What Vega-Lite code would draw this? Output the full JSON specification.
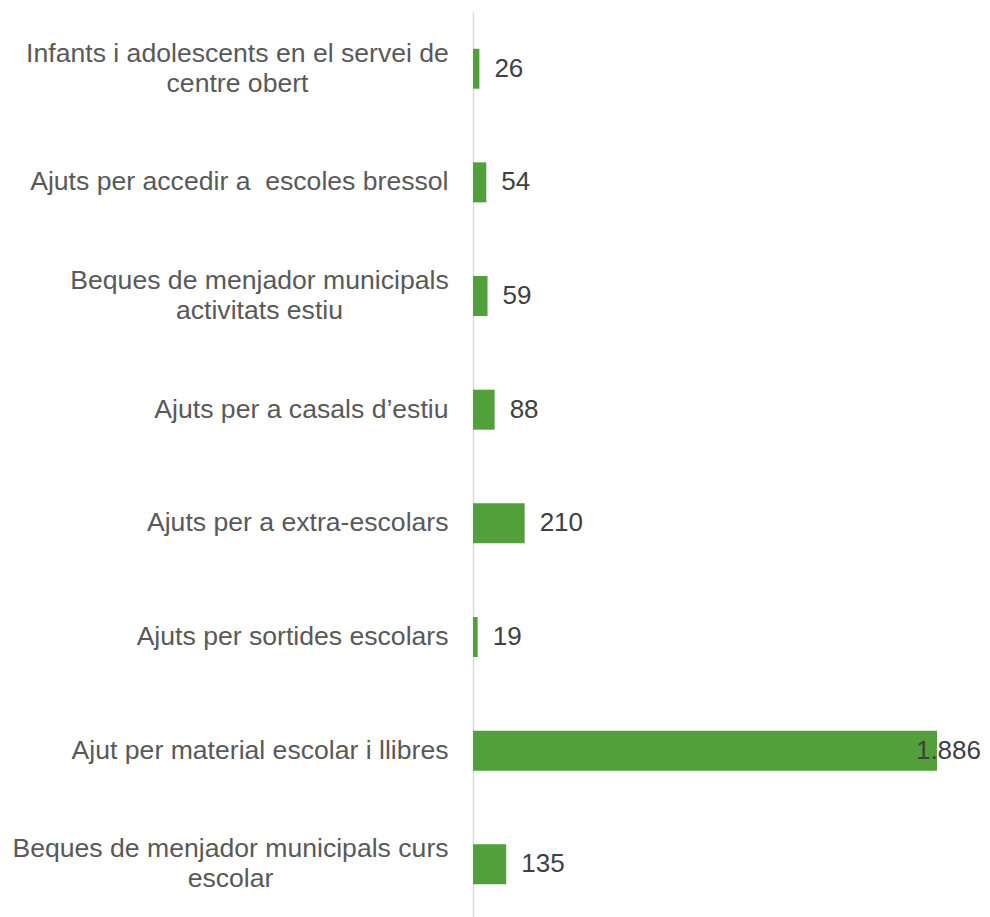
{
  "$schema": "https://vega.github.io/schema/vega-lite/v6.json",
  "autosize": "none",
  "padding": {"left": 473, "top": 12, "right": 53, "bottom": 0},
  "width": 464,
  "height": 909,
  "background": "white",
  "config": {"view": {"stroke": null}},
  "data": {
    "values": [
      {"categoria": "Infants i adolescents en el servei de\ncentre obert", "valor": 26, "etiqueta": "26"},
      {"categoria": "Ajuts per accedir a\u00a0 escoles bressol", "valor": 54, "etiqueta": "54"},
      {"categoria": "Beques de menjador municipals\nactivitats estiu", "valor": 59, "etiqueta": "59"},
      {"categoria": "Ajuts per a casals d’estiu", "valor": 88, "etiqueta": "88"},
      {"categoria": "Ajuts per a extra-escolars", "valor": 210, "etiqueta": "210"},
      {"categoria": "Ajuts per sortides escolars", "valor": 19, "etiqueta": "19"},
      {"categoria": "Ajut per material escolar i llibres", "valor": 1886, "etiqueta": "1.886"},
      {"categoria": "Beques de menjador municipals curs\nescolar", "valor": 135, "etiqueta": "135"}
    ]
  },
  "encoding": {
    "y": {
      "field": "categoria",
      "type": "nominal",
      "sort": null,
      "scale": {"paddingInner": 0.648, "paddingOuter": 0.323},
      "axis": {
        "title": null,
        "ticks": false,
        "domainColor": "#d9d9d9",
        "domainWidth": 1.5,
        "labelFont": "Liberation Sans",
        "labelFontSize": 26.6,
        "labelColor": "#595959",
        "labelLimit": 0,
        "labelLineHeight": 30,
        "labelExpr": "split(datum.label, '\\n')",
        "labelAlign": {"condition": {"test": "indexof(datum.value, '\\n') >= 0", "value": "center"}, "value": "right"},
        "labelOffset": {"condition": {"test": "indexof(datum.value, '\\n') >= 0", "value": -15}, "value": 0},
        "labelPadding": {
          "condition": [
            {"test": "indexof(datum.value, 'Infants') == 0", "value": 236},
            {"test": "indexof(datum.value, 'Beques de menjador municipals\\nactivitats') == 0", "value": 214},
            {"test": "indexof(datum.value, 'Beques de menjador municipals curs') == 0", "value": 243}
          ],
          "value": 25
        }
      }
    },
    "x": {
      "field": "valor",
      "type": "quantitative",
      "scale": {"domain": [0, 1886], "nice": false},
      "axis": null
    }
  },
  "layer": [
    {"mark": {"type": "bar", "color": "#52a03a"}},
    {
      "transform": [{"filter": "datum.valor < 1000"}],
      "mark": {"type": "text", "align": "left", "baseline": "middle", "dx": 15, "font": "Liberation Sans", "fontSize": 26, "color": "#404040"},
      "encoding": {"text": {"field": "etiqueta"}}
    },
    {
      "transform": [{"filter": "datum.valor >= 1000"}],
      "mark": {"type": "text", "align": "right", "baseline": "middle", "dx": 44, "font": "Liberation Sans", "fontSize": 26, "color": "#404040"},
      "encoding": {"text": {"field": "etiqueta"}}
    }
  ]
}
